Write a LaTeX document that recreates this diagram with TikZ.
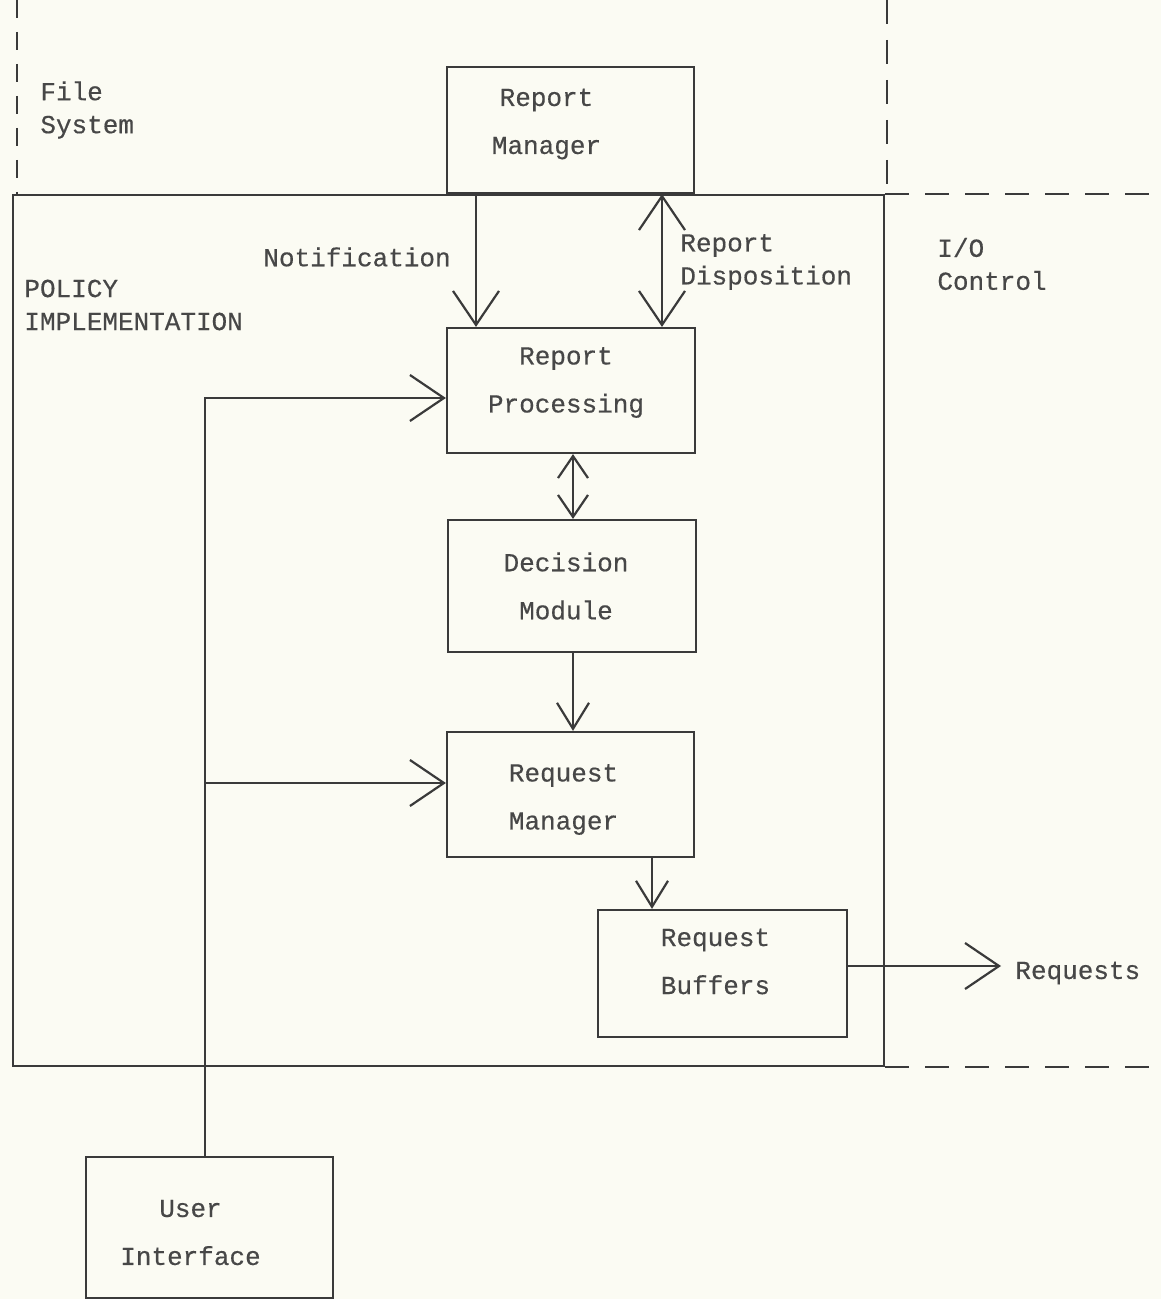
\documentclass[tikz,border=0pt]{standalone}
\usepackage{fontspec}
\setmonofont[BoldFont={Liberation Mono},BoldFeatures={FakeBold=0.4}]{Liberation Mono}
\usetikzlibrary{arrows.meta}
\definecolor{paper}{HTML}{FBFBF3}
\definecolor{ink}{HTML}{3A3A3A}
\definecolor{txt}{HTML}{474747}
\begin{document}
\begin{tikzpicture}[x=0.5pt,y=-0.5pt,
  box/.style={draw=ink, line width=1.1pt, inner sep=0pt},
  boxtext/.style={inner sep=0pt, align=center, text=txt,
    font=\ttfamily\bfseries\fontsize{13}{24}\selectfont},
  lbl/.style={text=txt, inner sep=0pt, align=left, anchor=west,
    font=\ttfamily\bfseries\fontsize{13}{16.5}\selectfont},
  ln/.style={draw=ink, line width=1.1pt},
  dashln/.style={ln, dash pattern=on 12pt off 8pt},
  big/.style={ln, -{Straight Barb[length=17pt,width=23pt,line width=1.1pt]}},
  bigboth/.style={ln, {Straight Barb[length=17pt,width=23pt,line width=1.1pt]}-{Straight Barb[length=17pt,width=23pt,line width=1.1pt]}},
  small/.style={ln, -{Straight Barb[length=13pt,width=16pt,line width=1.1pt]}},
  smallboth/.style={ln, {Straight Barb[length=11pt,width=15pt,line width=1.1pt]}-{Straight Barb[length=11pt,width=15pt,line width=1.1pt]}}
]
\fill[paper] (0,0) rectangle (1161,1299);
\useasboundingbox (0,0) rectangle (1161,1299);

% frame of policy implementation
\node (frame) [draw=ink, line width=1.1pt, minimum width=435.5pt, minimum height=435.5pt, inner sep=0pt] at (448.5,630.5) {};
\coordinate (rend) at (1161,0);
\draw[dashln] (frame.north east) -- (frame.north east -| rend);
\draw[dashln] (frame.south east) -- (frame.south east -| rend);

% dashed verticals of file system region
\coordinate (ltop) at (17,0);
\coordinate (rtop) at (887,0);
\draw[ln, dash pattern=on 9pt off 7pt] (ltop) -- (ltop |- frame.north);
\draw[dashln] (rtop) -- (rtop |- frame.north);

% boxes
\node (rman) [box, minimum width=123.5pt, minimum height=63pt,
  label={[boxtext, xshift=-12pt, yshift=3pt]center:Report\\Manager}] at (570.5,130) {};
\node (rpro) [box, minimum width=124pt, minimum height=62.5pt,
  label={[boxtext, xshift=-2.5pt, yshift=4pt]center:Report\\Processing}] at (571,390.5) {};
\node (dec)  [box, minimum width=124pt, minimum height=66pt,
  label={[boxtext, xshift=-3pt]center:Decision\\Module}] at (572,586) {};
\node (rqm)  [box, minimum width=123.5pt, minimum height=62.5pt,
  label={[boxtext, xshift=-3.5pt, yshift=-2.5pt]center:Request\\Manager}] at (570.5,794.5) {};
\node (buf)  [box, minimum width=124.5pt, minimum height=63.5pt,
  label={[boxtext, xshift=-3.5pt, yshift=6pt]center:Request\\Buffers}] at (722.5,973.5) {};
\node (ui)   [box, minimum width=123.5pt, minimum height=70.5pt,
  label={[boxtext, xshift=-9.5pt, yshift=-2.5pt]center:User\\Interface}] at (209.5,1227.5) {};

% labels
\node (fs)   [lbl] at (40,110) {File\\System};
\node (pol)  [lbl] at (24,305) {POLICY\\IMPLEMENTATION};
\node (note) [lbl] at (263,257) {Notification};
\node (disp) [lbl] at (680,262) {Report\\Disposition};
\node (io)   [lbl] at (937,264) {I/O\\Control};
\node (req)  [lbl] at (1015,973) {Requests};

% connectors
\coordinate (nx) at (476,0);
\coordinate (dx) at (662,0);
\coordinate (cx) at (573,0);
\coordinate (bx) at (652,0);
\draw[big] (nx |- rman.south) -- (nx |- rpro.north);
\draw[bigboth] (dx |- rman.south) -- (dx |- rpro.north);
\draw[smallboth] (cx |- rpro.south) -- (cx |- dec.north);
\draw[small] (cx |- dec.south) -- (cx |- rqm.north);
\draw[small] (bx |- rqm.south) -- (bx |- buf.north);
\coordinate (tip) at (1001,0);
\coordinate (ry) at (0,966);
\draw[big] (buf.east |- ry) -- (tip |- ry);

\coordinate (top) at (205,398);
\coordinate (mid) at (205,783);
\draw[big] (ui.north -| top) -- (top) -- (top -| rpro.west);
\draw[big] (mid) -- (mid -| rqm.west);
\end{tikzpicture}
\end{document}
